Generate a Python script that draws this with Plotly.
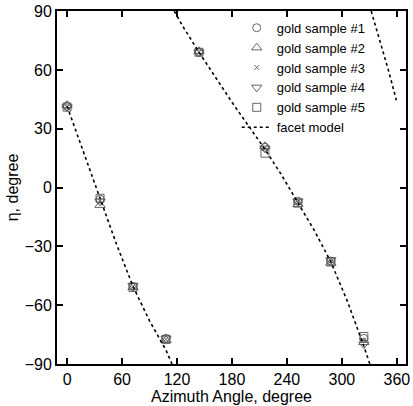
import plotly.graph_objects as go

# Measured azimuth angles (degree)
azimuth = [0, 36, 72, 108, 144, 216, 252, 288, 324]

# eta (degree) for each gold sample
sample1 = [41.5, -6.0, -50.5, -77.0, 69.0, 20.5, -7.0, -37.5, -77.0]
sample2 = [42.0, -9.0, -51.0, -78.0, 69.5, 21.0, -8.5, -38.5, -79.0]
sample3 = [41.0, -7.0, -50.5, -77.5, 69.0, 20.0, -7.5, -37.5, -78.0]
sample4 = [41.0, -7.0, -50.0, -77.0, 69.0, 20.0, -7.0, -37.0, -80.0]
sample5 = [41.0, -5.5, -51.0, -77.5, 69.0, 17.5, -8.0, -38.0, -76.0]

sample_names = ["gold sample #1", "gold sample #2", "gold sample #3",
                "gold sample #4", "gold sample #5"]

# Facet model curve, three branches (wrapping at +/-90)
model_az_1 = [0, 18, 36, 54, 72, 90, 108, 114.5]
model_eta_1 = [41.5, 18, -6.5, -29, -50.5, -68, -83, -90]
model_az_2 = [117, 126, 144, 162, 180, 198, 216, 234, 252, 270, 288, 306, 324, 330.5]
model_eta_2 = [90, 82.5, 69, 56, 43.5, 31.5, 19.5, 6.5, -7.5, -22, -38, -58, -81, -90]
model_az_3 = [332, 342, 351, 359.5]
model_eta_3 = [90, 74, 59.5, 44.5]

x_ticks = [0, 60, 120, 180, 240, 300, 360]
y_ticks = [-90, -60, -30, 0, 30, 60, 90]

FONT = "Liberation Sans, Arial, sans-serif"
MCOL = "#555555"

fig = go.Figure()

symbols = ["circle-open", "triangle-up-open", "x-thin-open", "triangle-down-open", "square-open"]
sizes = [8, 9, 5, 9, 8]
for name, vals, sym, sz in zip(sample_names, [sample1, sample2, sample3, sample4, sample5], symbols, sizes):
    fig.add_trace(go.Scatter(
        x=azimuth, y=vals, mode="markers", name=name,
        marker=dict(symbol=sym, size=sz, color=MCOL, line=dict(color=MCOL, width=0.9)),
    ))

line_style = dict(color="black", width=1.6, dash="dot")
fig.add_trace(go.Scatter(x=model_az_1, y=model_eta_1, mode="lines", name="facet model",
                         line=line_style, legendgroup="m"))
fig.add_trace(go.Scatter(x=model_az_2, y=model_eta_2, mode="lines", name="facet model",
                         line=line_style, legendgroup="m", showlegend=False))
fig.add_trace(go.Scatter(x=model_az_3, y=model_eta_3, mode="lines", name="facet model",
                         line=line_style, legendgroup="m", showlegend=False))

axis_common = dict(
    showgrid=False, zeroline=False, showline=True, linecolor="black", linewidth=1.8,
    mirror="ticks", ticks="inside", ticklen=6, tickwidth=1.5, tickcolor="black",
    tickfont=dict(family=FONT, size=16, color="black"),
    ticklabeloverflow="allow",
)

fig.update_layout(
    width=413, height=406,
    margin=dict(l=57, r=3, t=8, b=42),
    paper_bgcolor="white", plot_bgcolor="white",
    font=dict(family=FONT, color="black"),
    showlegend=True,
    legend=dict(x=0.515, y=0.995, xanchor="left", yanchor="top",
                bgcolor="rgba(0,0,0,0)", borderwidth=0,
                font=dict(family=FONT, size=13, color="black"),
                itemwidth=30, tracegroupgap=0),
    xaxis=dict(range=[-11, 370], tickvals=x_ticks,
               title=dict(text="Azimuth Angle, degree", font=dict(family=FONT, size=16), standoff=2),
               **axis_common),
    yaxis=dict(range=[-90.05, 90.05], tickvals=y_ticks,
               title=dict(text="η, degree", font=dict(family=FONT, size=16), standoff=2),
               **axis_common),
)

fig.write_html("out.html")
